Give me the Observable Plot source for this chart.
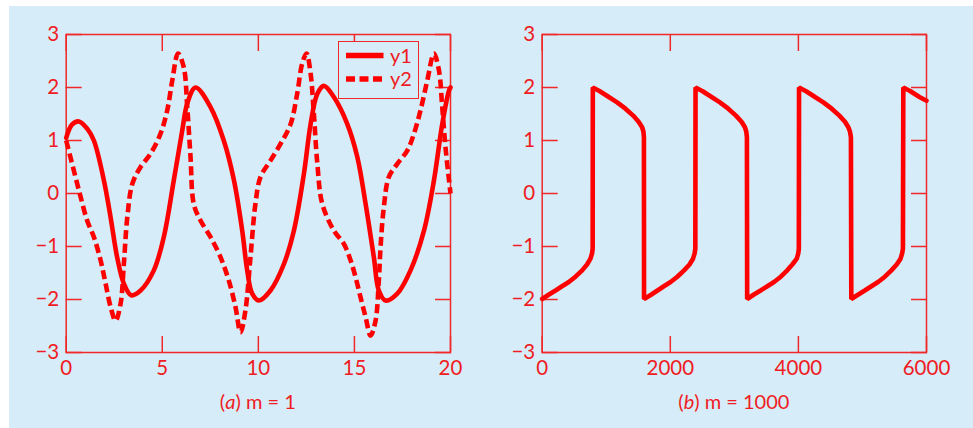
<!DOCTYPE html>
<html>
<head>
<meta charset="utf-8">
<script src="https://cdn.jsdelivr.net/npm/d3@7"></script>
<script src="https://cdn.jsdelivr.net/npm/@observablehq/plot@0.6"></script>
<style>
  html, body { margin: 0; padding: 0; background: #ffffff; }
  #page { position: relative; width: 973px; height: 428px; overflow: hidden; }
  #bg { position: absolute; left: 9px; top: 6px; right: 0; bottom: 0; background: #d6ecf8; }
  .panel { position: absolute; top: 0; }
  .panel svg { background: transparent !important; overflow: visible; }
  .cap { position: absolute; top: 389px; font-family: Lato, "Open Sans", sans-serif; font-size: 20px; color: #ef1c24; text-align: center; white-space: pre; }
  #legend { position: absolute; left: 337.5px; top: 41px; width: 81.5px; height: 58px; box-sizing: border-box; border: 1.5px solid #f02828; background: #d6ecf8; }
</style>
</head>
<body>
<div id="page">
  <div id="bg"></div>
  <div id="left" class="panel" style="left:0px"></div>
  <div id="right" class="panel" style="left:480px"></div>
  <div class="cap" style="left:65.7px; width:384.3px">(<i>a</i>) m = 1</div>
  <div class="cap" style="left:541.7px; width:384.3px">(<i>b</i>) m = 1000</div>
  <div id="legend"></div>
</div>
<script>
// ---------- Data ----------
// Panel (a): m = 1
const tA1 = [0, 0.3, 0.66, 1.1, 1.44, 1.96, 2.31, 2.65, 3.0, 3.38, 3.87, 4.56, 5.08, 5.6, 6.04, 6.3, 6.73,
  7.51, 8.2, 8.73, 9.16, 9.42, 9.68, 10.03, 10.63, 11.33, 11.85, 12.37, 12.72, 13.07, 13.41,
  13.93, 14.63, 15.15, 15.58, 16.01, 16.27, 16.62, 17.23, 17.92, 18.62, 19.14, 19.57, 19.92, 20];
const y1A = [1.05, 1.3, 1.36, 1.22, 1.0, 0.25, -0.45, -1.2, -1.7, -1.92, -1.83, -1.45, -0.82, 0.25, 1.19, 1.7, 2.0,
  1.63, 1.0, 0.25, -0.7, -1.45, -1.89, -2.02, -1.83, -1.33, -0.7, 0.37, 1.31, 1.88, 2.03,
  1.82, 1.31, 0.69, -0.19, -1.2, -1.83, -2.02, -1.89, -1.45, -0.7, 0.25, 1.31, 1.94, 2.0];

const tA2 = [0, 0.4, 0.74, 1.09, 1.44, 1.79, 2.05, 2.31, 2.57, 2.83, 3.0, 3.18, 3.44, 3.87, 4.39, 4.91, 5.26, 5.52,
  5.82, 6.12, 6.3, 6.47, 6.64, 6.99, 7.51, 8.03, 8.46, 8.81, 9.07, 9.33, 9.59, 9.85, 10.11, 10.63, 11.16,
  11.68, 12.02, 12.28, 12.51, 12.72, 12.89, 13.07, 13.33, 13.93, 14.45, 14.8, 15.06, 15.32, 15.58, 15.84,
  16.1, 16.27, 16.36, 16.53, 16.79, 17.23, 17.75, 18.1, 18.44, 18.79, 19.14, 19.4, 19.57, 19.74, 20];
const y2A = [1.0, 0.43, -0.05, -0.51, -0.82, -1.26, -1.7, -2.14, -2.4, -2.08, -1.33, -0.45, 0.18, 0.5, 0.75, 1.13, 1.57, 2.13,
  2.64, 2.38, 1.63, 0.69, -0.2, -0.51, -0.82, -1.2, -1.64, -2.14, -2.62, -2.2, -1.2, -0.19, 0.31, 0.62, 0.94,
  1.31, 1.88, 2.45, 2.64, 2.26, 1.5, 0.56, -0.2, -0.7, -0.95, -1.26, -1.58, -1.96, -2.33, -2.68,
  -2.4, -1.64, -1.01, -0.26, 0.31, 0.56, 0.81, 1.13, 1.57, 2.13, 2.64, 2.32, 1.63, 0.87, 0.0];

// Panel (b): m = 1000
const tB = [0, 100, 208, 310, 416, 520, 624, 700, 754, 778, 788, 790, 900, 1040, 1170, 1300, 1420, 1508, 1560, 1580, 1588, 1590,
  1700, 1800, 1900, 2005, 2110, 2215, 2300, 2355, 2380, 2391, 2394, 2505, 2645, 2775, 2905, 3025, 3115, 3165, 3186, 3196, 3200,
  3300, 3410, 3515, 3620, 3725, 3826, 3905, 3975, 3998, 4007, 4010, 4120, 4260, 4390, 4520, 4640, 4730, 4780, 4805, 4820, 4826,
  4930, 5036, 5140, 5244, 5350, 5452, 5535, 5595, 5620, 5632, 5638, 5750, 5890, 6000];
const y1B = [-1.99, -1.91, -1.83, -1.75, -1.67, -1.57, -1.45, -1.34, -1.23, -1.13, -1.04, 2.0, 1.93, 1.82, 1.72, 1.6, 1.47, 1.35, 1.25, 1.17, 1.06, -1.99,
  -1.91, -1.83, -1.75, -1.67, -1.57, -1.45, -1.34, -1.23, -1.13, -1.04, 2.0, 1.93, 1.82, 1.72, 1.6, 1.47, 1.35, 1.25, 1.17, 1.06, -1.99,
  -1.91, -1.83, -1.75, -1.67, -1.57, -1.45, -1.34, -1.23, -1.13, -1.04, 2.0, 1.93, 1.82, 1.72, 1.6, 1.47, 1.35, 1.25, 1.17, 1.06, -1.99,
  -1.91, -1.83, -1.75, -1.67, -1.57, -1.45, -1.34, -1.23, -1.13, -1.04, 2.0, 1.93, 1.82, 1.75];

// Ticks
const xTicksA = [0, 5, 10, 15, 20];
const xTicksB = [0, 2000, 4000, 6000];
const yTicks = [-3, -2, -1, 0, 1, 2, 3];
const seriesNames = ["y1", "y2"];

// ---------- Style ----------
const RED = "#ff0000";
const FRAME = "#f02828";
const TXT = "#ef1c24";
const FONT = "Lato, 'Open Sans', sans-serif";
const FS = 20.5;
const LW = 4.6;
const DASH = "9,4.5";
const intFmt = d3.format("d");

const a1 = tA1.map((t, i) => ({t, y: y1A[i]}));
const a2 = tA2.map((t, i) => ({t, y: y2A[i]}));
const b1 = tB.map((t, i) => ({t, y: y1B[i]}));

function frameMarks(xTicks) {
  return [
    Plot.frame({stroke: FRAME, strokeWidth: 1.5}),
    Plot.axisX(xTicks, {anchor: "bottom", tickSize: 16, dy: -16, fill: "none", stroke: FRAME, strokeWidth: 1.5, label: null}),
    Plot.axisX(xTicks, {anchor: "top", tickSize: 16, dy: 16, fill: "none", stroke: FRAME, strokeWidth: 1.5, label: null}),
    Plot.axisY(yTicks, {anchor: "left", tickSize: 16, dx: 16, fill: "none", stroke: FRAME, strokeWidth: 1.5, label: null}),
    Plot.axisY(yTicks, {anchor: "right", tickSize: 16, dx: -16, fill: "none", stroke: FRAME, strokeWidth: 1.5, label: null}),
    Plot.axisX(xTicks, {anchor: "bottom", tickSize: 0, tickPadding: 8, fill: TXT, fontSize: FS, label: null, tickFormat: intFmt}),
    Plot.axisY(yTicks, {anchor: "left", tickSize: 0, tickPadding: 7, fill: TXT, fontSize: FS, label: null, tickFormat: intFmt})
  ];
}

const left = Plot.plot({
  width: 480, height: 380,
  marginLeft: 65.7, marginRight: 30, marginTop: 34, marginBottom: 28,
  style: {background: "transparent", fontFamily: FONT, fontSize: FS + "px", color: TXT},
  x: {domain: [0, 20], label: null},
  y: {domain: [-3, 3], label: null},
  marks: [
    ...frameMarks(xTicksA),
    Plot.line(a1, {x: "t", y: "y", stroke: RED, strokeWidth: LW, curve: "catmull-rom"}),
    Plot.line(a2, {x: "t", y: "y", stroke: RED, strokeWidth: LW, strokeDasharray: DASH, strokeLinecap: "butt", curve: "catmull-rom"})
  ]
});
document.getElementById("left").appendChild(left);

const right = Plot.plot({
  width: 493, height: 380,
  marginLeft: 61.7, marginRight: 47, marginTop: 34, marginBottom: 28,
  style: {background: "transparent", fontFamily: FONT, fontSize: FS + "px", color: TXT},
  x: {domain: [0, 6000], label: null},
  y: {domain: [-3, 3], label: null},
  marks: [
    ...frameMarks(xTicksB),
    Plot.line(b1, {x: "t", y: "y", stroke: RED, strokeWidth: LW, strokeLinejoin: "miter", curve: "linear"})
  ]
});
document.getElementById("right").appendChild(right);

// Legend (panel a)
const NS = "http://www.w3.org/2000/svg";
const lg = document.createElementNS(NS, "svg");
lg.setAttribute("width", "79");
lg.setAttribute("height", "55");
lg.style.position = "absolute";
lg.style.left = "0px";
lg.style.top = "0px";
seriesNames.forEach((name, i) => {
  const y = 13.5 + i * 23.5;
  const ln = document.createElementNS(NS, "line");
  ln.setAttribute("x1", "7");
  ln.setAttribute("x2", "44.5");
  ln.setAttribute("y1", y);
  ln.setAttribute("y2", y);
  ln.setAttribute("stroke", RED);
  ln.setAttribute("stroke-width", LW + 0.8);
  if (i === 1) ln.setAttribute("stroke-dasharray", DASH);
  lg.appendChild(ln);
  const tx = document.createElementNS(NS, "text");
  tx.setAttribute("x", "51");
  tx.setAttribute("y", y);
  tx.setAttribute("dy", "0.35em");
  tx.setAttribute("fill", TXT);
  tx.setAttribute("font-family", FONT);
  tx.setAttribute("font-size", "20");
  tx.textContent = name;
  lg.appendChild(tx);
});
document.getElementById("legend").appendChild(lg);
</script>
</body>
</html>
